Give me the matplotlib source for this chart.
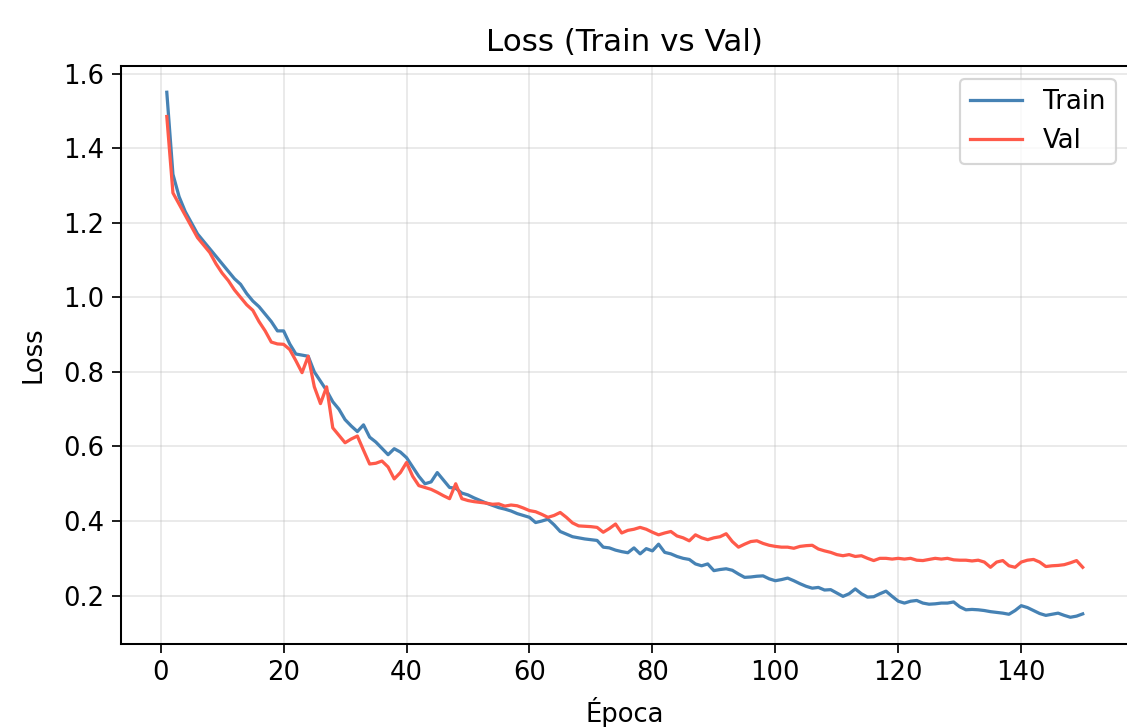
import matplotlib
matplotlib.use("Agg")
import matplotlib.pyplot as plt
import numpy as np

epochs = list(range(1, 151))

train_loss = [
    1.55, 1.33, 1.27, 1.23, 1.20, 1.17, 1.15, 1.13, 1.11, 1.09,
    1.07, 1.05, 1.035, 1.01, 0.99, 0.975, 0.955, 0.935, 0.91, 0.91,
    0.875, 0.848, 0.845, 0.842, 0.80, 0.775, 0.75, 0.72, 0.70, 0.672,
    0.655, 0.64, 0.658, 0.625, 0.612, 0.595, 0.578, 0.594, 0.585, 0.57,
    0.545, 0.52, 0.50, 0.505, 0.53, 0.51, 0.49, 0.488, 0.475, 0.47,
    0.462, 0.455, 0.448, 0.442, 0.436, 0.432, 0.427, 0.42, 0.415, 0.41,
    0.396, 0.40, 0.405, 0.39, 0.372, 0.365, 0.358, 0.355, 0.352, 0.35,
    0.348, 0.33, 0.328, 0.322, 0.318, 0.315, 0.328, 0.312, 0.326, 0.32,
    0.338, 0.316, 0.312, 0.305, 0.30, 0.297, 0.285, 0.28, 0.285, 0.267,
    0.27, 0.272, 0.268, 0.258, 0.249, 0.25, 0.252, 0.253, 0.245, 0.24,
    0.243, 0.247, 0.24, 0.232, 0.225, 0.22, 0.222, 0.215, 0.216, 0.207,
    0.198, 0.205, 0.218, 0.205, 0.196, 0.197, 0.205, 0.212, 0.198, 0.185,
    0.18, 0.185, 0.187, 0.18, 0.177, 0.178, 0.18, 0.18, 0.183, 0.17,
    0.162, 0.163, 0.162, 0.16, 0.157, 0.155, 0.153, 0.15, 0.16, 0.173,
    0.168, 0.16, 0.152, 0.147, 0.15, 0.153, 0.147, 0.142, 0.145, 0.151,
]

val_loss = [
    1.485, 1.28, 1.25, 1.22, 1.19, 1.16, 1.14, 1.12, 1.09, 1.065,
    1.045, 1.02, 1.0, 0.98, 0.965, 0.935, 0.91, 0.88, 0.875, 0.874,
    0.86, 0.83, 0.798, 0.842, 0.76, 0.715, 0.76, 0.65, 0.63, 0.61,
    0.62, 0.628, 0.59, 0.553, 0.555, 0.561, 0.545, 0.513, 0.53, 0.557,
    0.52, 0.495, 0.49, 0.485, 0.477, 0.468, 0.46, 0.50, 0.46, 0.455,
    0.452, 0.45, 0.448, 0.445, 0.446, 0.44, 0.443, 0.441, 0.435, 0.428,
    0.425, 0.418, 0.41, 0.415, 0.423, 0.41, 0.395, 0.387, 0.386, 0.385,
    0.383, 0.37, 0.38, 0.392, 0.368, 0.375, 0.378, 0.383, 0.378, 0.37,
    0.363, 0.368, 0.372, 0.36, 0.355, 0.347, 0.363, 0.355, 0.35, 0.355,
    0.358, 0.366, 0.345, 0.33, 0.338, 0.345, 0.347, 0.34, 0.335, 0.332,
    0.33, 0.33, 0.327, 0.332, 0.334, 0.335, 0.325, 0.32, 0.316, 0.31,
    0.307, 0.31, 0.305, 0.307, 0.30, 0.294, 0.30, 0.30, 0.298, 0.30,
    0.298, 0.30, 0.295, 0.294, 0.297, 0.30, 0.298, 0.30, 0.296, 0.295,
    0.295, 0.293, 0.295, 0.29, 0.276, 0.29, 0.294, 0.28, 0.276, 0.29,
    0.295, 0.297, 0.29, 0.278, 0.28, 0.281, 0.283, 0.288, 0.294, 0.276,
]

DPI = 155
W, H = 1127, 727
plt.rcParams.update({
    "font.size": 12,
    "axes.titlesize": 14.4,
    "axes.labelsize": 12,
    "xtick.labelsize": 12,
    "ytick.labelsize": 12,
    "legend.fontsize": 12,
    "xtick.major.size": 4.2,
    "ytick.major.size": 4.2,
    "axes.linewidth": 0.95,
})
fig = plt.figure(figsize=(W / DPI, H / DPI), dpi=DPI)
fig.patch.set_facecolor("white")

left_px, right_px, top_px, bottom_px = 121.0, 1128.5, 66.0, 643.5
ax = fig.add_axes([left_px / W, 1 - bottom_px / H,
                   (right_px - left_px) / W, (bottom_px - top_px) / H])

ax.plot(epochs, train_loss, color="#4682b4", label="Train", lw=1.5)
ax.plot(epochs, val_loss, color="#ff5a4a", label="Val", lw=1.5)

ax.set_title("Loss (Train vs Val)", pad=7)
ax.set_xlabel("Época", labelpad=5)
ax.set_ylabel("Loss", labelpad=8)
ax.grid(True, alpha=0.3)
ax.legend(loc="upper right")

fig.savefig("out.png", dpi=DPI, facecolor="white")
